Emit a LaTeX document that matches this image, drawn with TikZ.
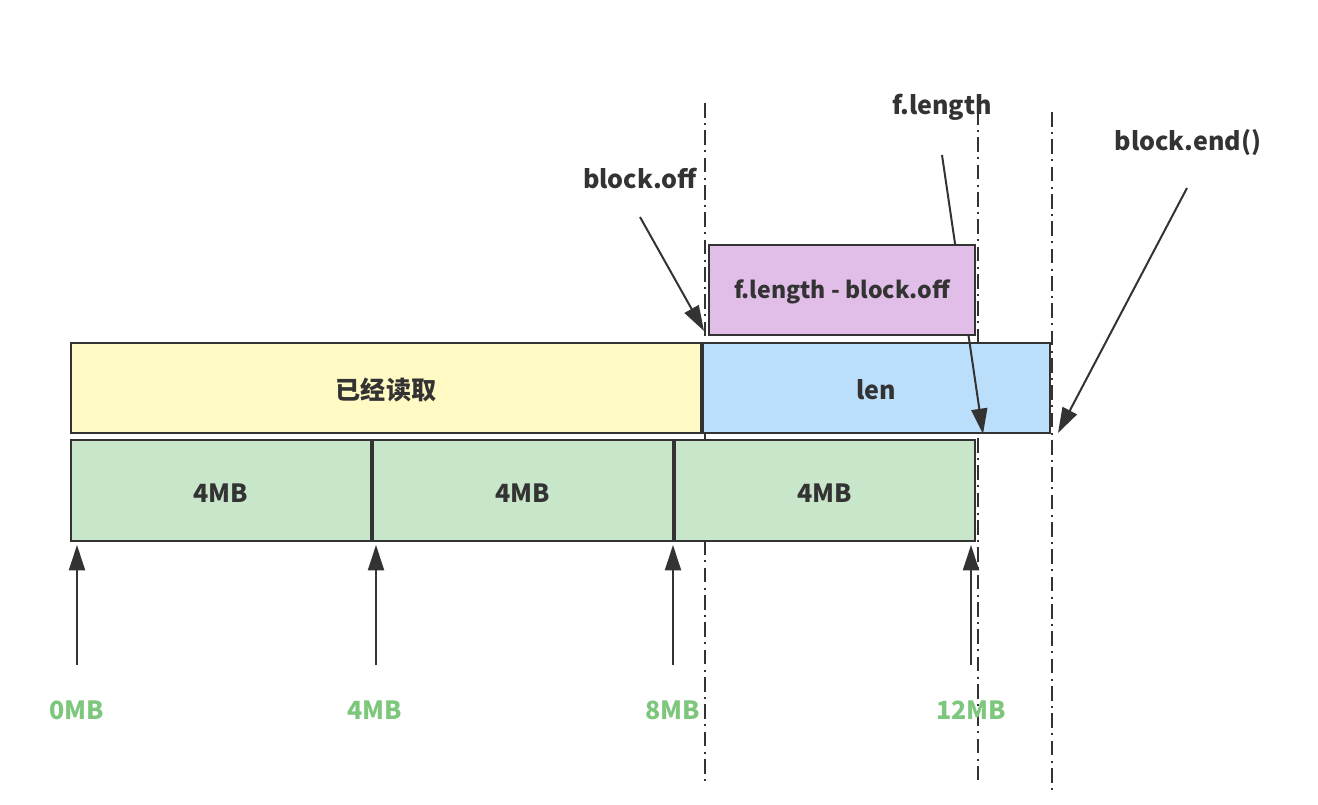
\documentclass[tikz,border=0pt]{standalone}
\usepackage{fontspec}
\setmainfont{Noto Sans CJK SC}
\usetikzlibrary{arrows.meta}
\definecolor{ink}{HTML}{333333}
\definecolor{yel}{HTML}{FFF9C4}
\definecolor{blu}{HTML}{BBDEFB}
\definecolor{pur}{HTML}{E1BEE7}
\definecolor{grn}{HTML}{C8E6C9}
\definecolor{lbl}{HTML}{7DC77D}
\newcommand{\lowtxt}[2]{\raisebox{-#1}[\height][\depth]{#2}}
\tikzset{
  box/.style={draw=ink, line width=1.4pt, inner sep=0pt, text=ink, font=\fontsize{18.8}{22}\selectfont\bfseries},
  arr/.style={draw=ink, line width=1.5pt, -{Triangle[length=19pt,width=12pt]}},
  guide/.style={draw=ink, line width=1.5pt, dash pattern=on 11pt off 4pt on 1.5pt off 4pt},
  note/.style={text=ink, inner sep=0pt, font=\fontsize{18.8}{22}\selectfont\bfseries},
  mb/.style={text=lbl, inner sep=0pt, font=\fontsize{18.8}{22}\selectfont\bfseries}
}
\begin{document}
\begin{tikzpicture}[x=0.75pt,y=-0.75pt]
\useasboundingbox (0,0) rectangle (1318,805);
% guide lines
\coordinate (g1t) at (705,103); \coordinate (g1b) at (705,783);
\coordinate (g2t) at (978,110); \coordinate (g2b) at (978,780);
\coordinate (g3t) at (1052,112); \coordinate (g3b) at (1052,790);
\draw[guide] (g1t) -- (g1b);
\draw[guide] (g2t) -- (g2b);
\draw[guide] (g3t) -- (g3b);
% boxes
\node[box, fill=yel, minimum width=472.5pt, minimum height=67.5pt] (read) at (386,388) {\lowtxt{1.5pt}{已经读取}};
\node[box, fill=blu, minimum width=260.25pt, minimum height=67.5pt] (len) at (876.5,388) {\lowtxt{1pt}{len}};
\node[box, fill=grn, minimum width=225pt, minimum height=75.75pt] (b1) at (221,490.5) {\lowtxt{2pt}{4MB}};
\node[box, fill=grn, minimum width=225pt, minimum height=75.75pt] (b2) at (523,490.5) {\lowtxt{2pt}{4MB}};
\node[box, fill=grn, minimum width=225pt, minimum height=75.75pt] (b3) at (825,490.5) {\lowtxt{2pt}{4MB}};
% top labels
\node[note] (boff) at (640,178) {block.off};
\node[note] (flen) at (942,107) {f.length};
\node[note] (bend) at (1188,143) {block.end()};
\coordinate (boffs) at (640,217); \coordinate (bofft) at (704,331);
\coordinate (flens) at (942,155); \coordinate (flent) at (983,434);
\coordinate (bends) at (1187,188); \coordinate (bendt) at (1058,433);
\draw[arr] (boffs) -- (bofft);
\draw[arr] (flens) -- (flent);
\draw[arr] (bends) -- (bendt);
% purple box (covers f.length arrow)
\node[box, fill=pur, minimum width=199.5pt, minimum height=67.5pt, font=\fontsize{17.3}{20}\selectfont\bfseries] (diff) at (842,290) {\lowtxt{1.5pt}{f.length - block.off}};
% bottom scale
\node[mb] (m0) at (77,710) {0MB};
\node[mb] (m4) at (375,710) {4MB};
\node[mb] (m8) at (673,710) {8MB};
\node[mb] (m12) at (971,710) {12MB};
\coordinate (a0s) at (77,665); \coordinate (a0t) at (77,545);
\coordinate (a4s) at (376,665); \coordinate (a4t) at (376,545);
\coordinate (a8s) at (673,665); \coordinate (a8t) at (673,545);
\coordinate (a12s) at (971,665); \coordinate (a12t) at (971,545);
\draw[arr] (a0s) -- (a0t);
\draw[arr] (a4s) -- (a4t);
\draw[arr] (a8s) -- (a8t);
\draw[arr] (a12s) -- (a12t);
\end{tikzpicture}
\end{document}
